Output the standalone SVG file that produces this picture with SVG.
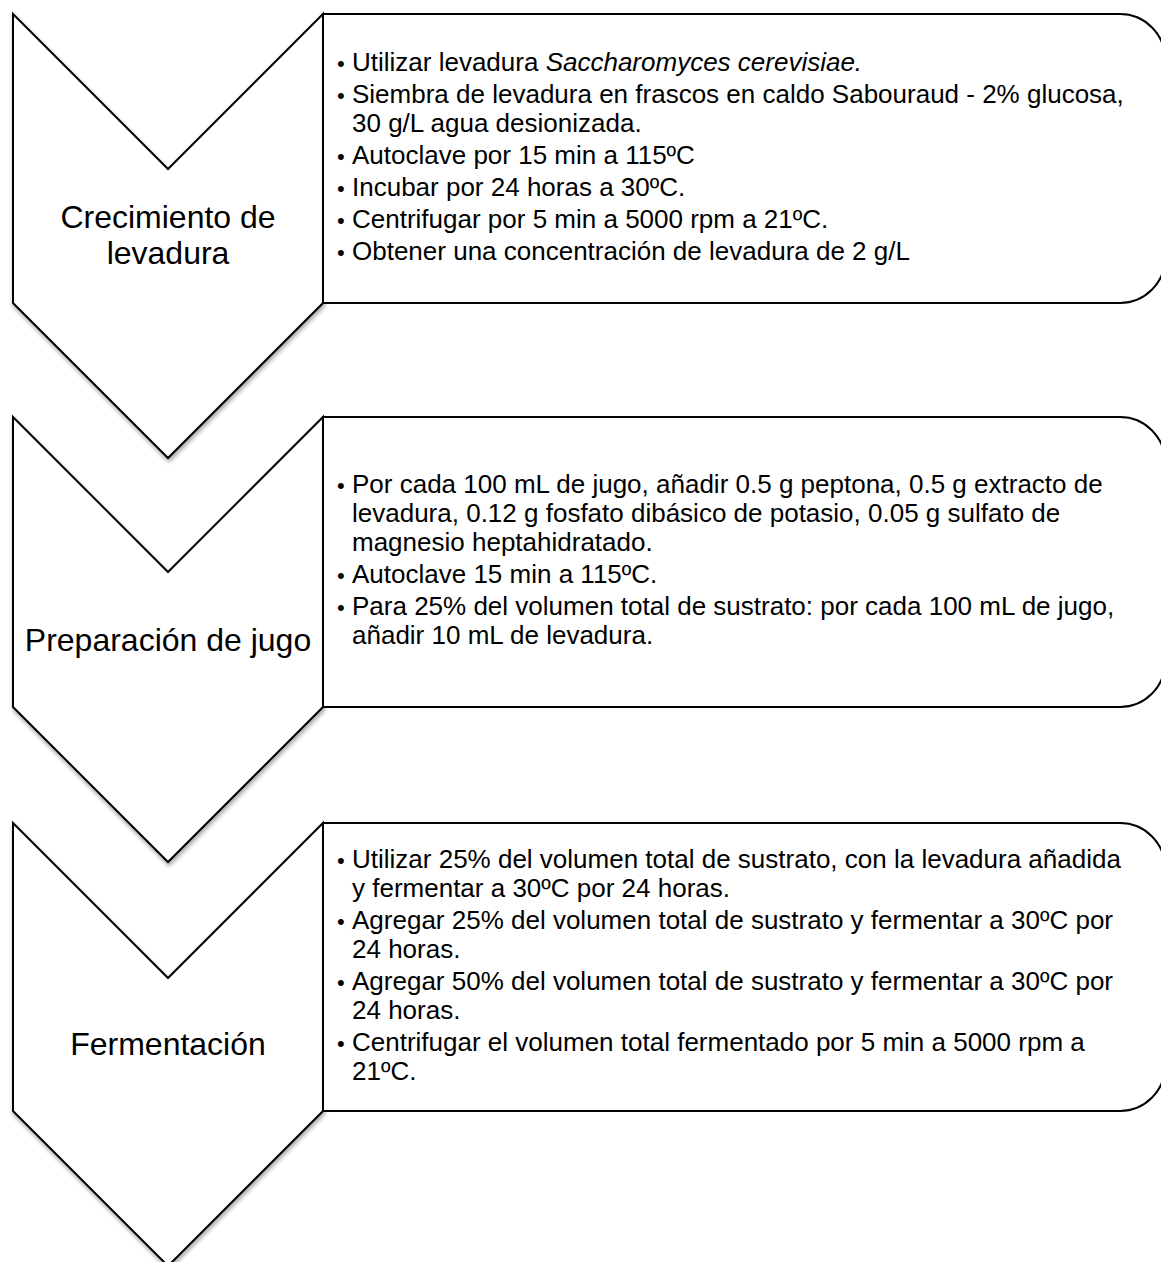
<svg xmlns="http://www.w3.org/2000/svg" width="1161" height="1262" viewBox="0 0 1161 1262">
<style>
.chev{fill:#fff;stroke:#000;stroke-width:2;stroke-linejoin:miter;filter:url(#sh)}
.box{fill:#fff;stroke:#000;stroke-width:2}
.lbl{font-family:"Liberation Sans",Arial,sans-serif;font-size:32px;fill:#000;text-anchor:middle}
.txt{font-family:"Liberation Sans",Arial,sans-serif;font-size:26px;fill:#000}
.bul{font-family:"Liberation Sans",Arial,sans-serif;font-size:22px;fill:#000}
</style>
<defs>
<filter id="sh" x="-10%" y="-10%" width="130%" height="130%">
<feGaussianBlur in="SourceAlpha" stdDeviation="2"/>
<feOffset dx="1" dy="3" result="o"/>
<feComponentTransfer><feFuncA type="linear" slope="0.35"/></feComponentTransfer>
<feMerge><feMergeNode/><feMergeNode in="SourceGraphic"/></feMerge>
</filter>
</defs>
<rect width="1161" height="1262" fill="#fff"/>
<g id="connectors"/>
<g id="step1">
<path class="chev" d="M13,14 L168,169 L323,14 L323,303 L168,458 L13,303 Z"/>
<text class="lbl" x="168" y="228">Crecimiento de<tspan x="168" dy="36">levadura</tspan></text>
</g>
<g id="details1">
<path class="box" d="M323,14 H1120 A45,45 0 0 1 1165,59 V258 A45,45 0 0 1 1120,303 H323 Z"/>
<g class="bul"><text x="337" y="71">•</text><text x="337" y="103">•</text><text x="337" y="164">•</text><text x="337" y="196">•</text><text x="337" y="228">•</text><text x="337" y="260">•</text></g>
<text class="txt" x="352" y="71">Utilizar levadura <tspan font-style="italic">Saccharomyces cerevisiae.</tspan></text>
<text class="txt" x="352" y="103">Siembra de levadura en frascos en caldo Sabouraud - 2% glucosa,<tspan x="352" dy="29">30 g/L agua desionizada.</tspan></text>
<text class="txt" x="352" y="164">Autoclave por 15 min a 115ºC</text>
<text class="txt" x="352" y="196">Incubar por 24 horas a 30ºC.</text>
<text class="txt" x="352" y="228">Centrifugar por 5 min a 5000 rpm a 21ºC.</text>
<text class="txt" x="352" y="260">Obtener una concentración de levadura de 2 g/L</text>
</g>
<g id="step2">
<path class="chev" d="M13,417 L168,572 L323,417 L323,707 L168,862 L13,707 Z"/>
<text class="lbl" x="168" y="651">Preparación de jugo</text>
</g>
<g id="details2">
<path class="box" d="M323,417 H1120 A45,45 0 0 1 1165,462 V662 A45,45 0 0 1 1120,707 H323 Z"/>
<g class="bul"><text x="337" y="493">•</text><text x="337" y="583">•</text><text x="337" y="615">•</text></g>
<text class="txt" x="352" y="493">Por cada 100 mL de jugo, añadir 0.5 g peptona, 0.5 g extracto de<tspan x="352" dy="29">levadura, 0.12 g fosfato dibásico de potasio, 0.05 g sulfato de</tspan><tspan x="352" dy="29">magnesio heptahidratado.</tspan></text>
<text class="txt" x="352" y="583">Autoclave 15 min a 115ºC.</text>
<text class="txt" x="352" y="615">Para 25% del volumen total de sustrato: por cada 100 mL de jugo,<tspan x="352" dy="29">añadir 10 mL de levadura.</tspan></text>
</g>
<g id="step3">
<path class="chev" d="M13,823 L168,978 L323,823 L323,1111 L168,1266 L13,1111 Z"/>
<text class="lbl" x="168" y="1055">Fermentación</text>
</g>
<g id="details3">
<path class="box" d="M323,823 H1120 A45,45 0 0 1 1165,868 V1066 A45,45 0 0 1 1120,1111 H323 Z"/>
<g class="bul"><text x="337" y="868">•</text><text x="337" y="929">•</text><text x="337" y="990">•</text><text x="337" y="1051">•</text></g>
<text class="txt" x="352" y="868">Utilizar 25% del volumen total de sustrato, con la levadura añadida<tspan x="352" dy="29">y fermentar a 30ºC por 24 horas.</tspan></text>
<text class="txt" x="352" y="929">Agregar 25% del volumen total de sustrato y fermentar a 30ºC por<tspan x="352" dy="29">24 horas.</tspan></text>
<text class="txt" x="352" y="990">Agregar 50% del volumen total de sustrato y fermentar a 30ºC por<tspan x="352" dy="29">24 horas.</tspan></text>
<text class="txt" x="352" y="1051">Centrifugar el volumen total fermentado por 5 min a 5000 rpm a<tspan x="352" dy="29">21ºC.</tspan></text>
</g>
</svg>
